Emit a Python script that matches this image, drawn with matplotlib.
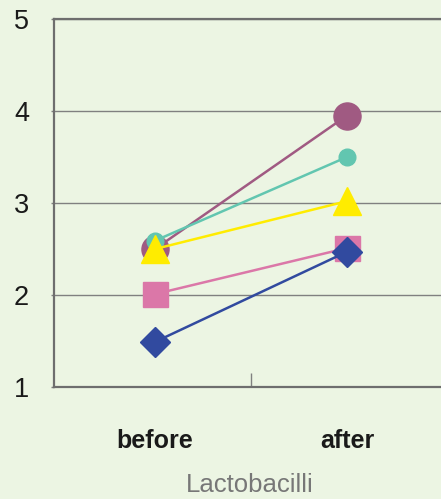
import matplotlib.pyplot as plt

plt.rcParams['font.family'] = ['Liberation Sans', 'DejaVu Sans']

# groupes et valeurs
moments = ["before", "after"]
serie_violet = [2.50, 3.95]
serie_turquoise = [2.59, 3.50]
serie_jaune = [2.50, 3.02]
serie_rose = [2.01, 2.51]
serie_bleu = [1.49, 2.47]
graduations = [1, 2, 3, 4, 5]

fond = "#ecf5e3"
fig = plt.figure(figsize=(4.41, 4.99), dpi=100, facecolor=fond)
ax = fig.add_axes([54 / 441, 112 / 499, 392 / 441, 368 / 499], facecolor=fond)

x = list(range(len(moments)))
ax.plot(x, serie_violet, color="#a05a82", lw=1.8, marker="o", ms=19.5, zorder=3)
ax.plot(x, serie_turquoise, color="#62c6b0", lw=1.8, marker="o", ms=12, zorder=4)
ax.plot(x, serie_jaune, color="#ffec00", lw=1.8, marker="^", ms=19.5, zorder=5)
ax.plot(x, serie_rose, color="#db77a8", lw=1.8, marker="s", ms=18, zorder=3)
ax.plot(x, serie_bleu, color="#314a9f", lw=1.8, marker="D", ms=15, zorder=4)

ax.set_xlim(-0.526, 1.516)
ax.set_ylim(1, 5)
ax.set_yticks(graduations)
ax.set_yticklabels([str(g) for g in graduations], fontsize=19.5, color="#1a1a1a")
ax.set_xticks(x)
ax.set_xticklabels(moments, fontsize=18, fontweight="bold", color="#1a1a1a")
ax.set_xticks([0.5], minor=True)
ax.tick_params(axis="x", which="major", length=0, pad=30)
ax.tick_params(axis="x", which="minor", direction="in", length=10, width=1, color="#808080")
ax.tick_params(axis="y", length=2, width=1, color="#808080", pad=16)

ax.grid(axis="y", color="#808080", lw=1)
ax.set_axisbelow(True)

for cote in ["left", "bottom", "top", "right"]:
    ax.spines[cote].set_color("#6e6e6e")
    ax.spines[cote].set_linewidth(1.6)

ax.set_xlabel("Lactobacilli", fontsize=18.5, color="#777777")
ax.xaxis.set_label_coords(0.5, -0.235)

plt.savefig("out.png", dpi=100, facecolor=fond)
